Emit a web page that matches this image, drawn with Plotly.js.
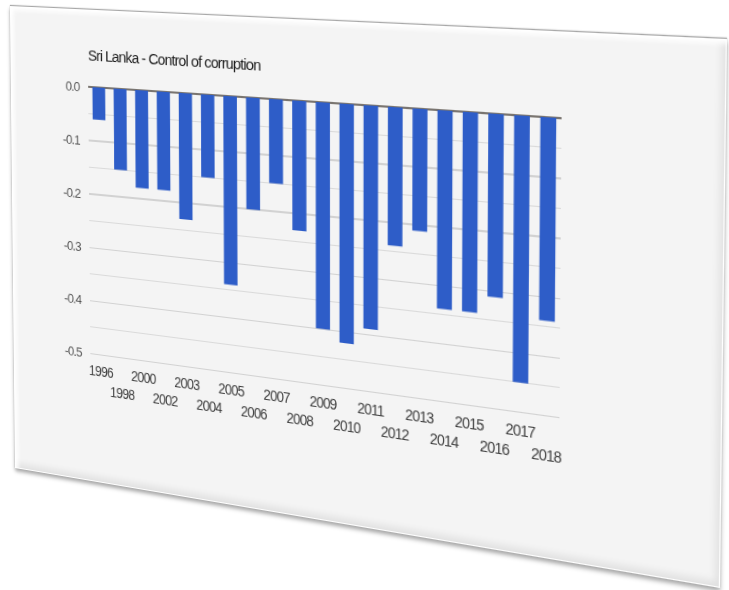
<!DOCTYPE html>
<html><head><meta charset="utf-8">
<script src="https://cdn.plot.ly/plotly-3.0.1.min.js"></script>
<style>
html,body{margin:0;padding:0;background:#ffffff;width:729px;height:590px;overflow:hidden;}
#panel{position:absolute;left:0;top:0;width:720px;height:470px;transform-origin:0 0;background:#f4f4f4;
 box-shadow: inset 0 0 0 1px #ffffff, inset 4px 4px 5px #ffffff, inset -4px -5px 6px #e0e0e0, 0 -1px 1px #a8a8a8, 0 3px 4px rgba(0,0,0,0.35);}
#chart{position:absolute;left:0;top:0;width:720px;height:470px;}
#chart .xtick text, #chart .x2tick text, #chart .ytick text{letter-spacing:-0.8px;}
#chart .gtitle{letter-spacing:-0.9px;}
</style></head><body>
<div id="panel"><div id="chart"></div></div>
<script>
const chartTitle = 'Sri Lanka - Control of corruption';
const years = ['1996','1998','2000','2002','2003','2004','2005','2006','2007','2008',
               '2009','2010','2011','2012','2013','2014','2015','2016','2017','2018'];
const values = [-0.06,-0.15,-0.18,-0.18,-0.23,-0.15,-0.34,-0.20,-0.15,-0.23,
                -0.40,-0.42,-0.39,-0.24,-0.21,-0.34,-0.34,-0.31,-0.45,-0.34];
const yTickVals = [0,-0.1,-0.2,-0.3,-0.4,-0.5];
const yTickText = ['0.0','-0.1','-0.2','-0.3','-0.4','-0.5'];

const W = 720, H = 470;
// perspective warp of the flat panel onto the photographed quadrilateral
const quad = [[10,6],[727,39],[720,588],[15,468]];
function homography(q){
  const [x0,y0]=q[0],[x1,y1]=q[1],[x2,y2]=q[2],[x3,y3]=q[3];
  const dx1=x1-x2, dx2=x3-x2, dx3=x0-x1+x2-x3;
  const dy1=y1-y2, dy2=y3-y2, dy3=y0-y1+y2-y3;
  const den=dx1*dy2-dx2*dy1;
  const g=(dx3*dy2-dx2*dy3)/den, h=(dx1*dy3-dx3*dy1)/den;
  const a=x1-x0+g*x1, b=x3-x0+h*x3, c=x0;
  const d=y1-y0+g*y1, e=y3-y0+h*y3, f=y0;
  return [a/W, d/W, 0, g/W, b/H, e/H, 0, h/H, 0,0,1,0, c, f, 0, 1];
}
document.getElementById('panel').style.transform = 'matrix3d(' + homography(quad).join(',') + ')';

const evenIdx = years.map((y,i)=>i).filter(i=>i%2===0);
const oddIdx = years.map((y,i)=>i).filter(i=>i%2===1);
const font = "'Liberation Sans', Arial, sans-serif";

const bars = {
  type:'bar', x: years, y: values,
  marker:{color:'#2e5dc8'}, hoverinfo:'skip'
};
// carrier for the second (staggered) row of year labels; draws nothing visible
const oddRow = {
  type:'scatter', mode:'markers', x: oddIdx, y: oddIdx.map(i=>values[i]),
  xaxis:'x2', yaxis:'y', marker:{opacity:0, size:1}, hoverinfo:'skip'
};
const layout = {
  width: W, height: H,
  margin:{l:91, r:144, t:76, b:126, pad:0},
  paper_bgcolor:'rgba(0,0,0,0)', plot_bgcolor:'rgba(0,0,0,0)',
  showlegend:false, bargap:0.4,
  font:{family:font, color:'#555'},
  title:{text:chartTitle, x:0, xref:'paper', xanchor:'left', y:1-45/H, yref:'container', yanchor:'middle',
         font:{family:font, size:15.5, color:'#1a1a1a', weight:500}},
  xaxis:{type:'category', range:[-0.5, years.length-0.5], showgrid:false, zeroline:false, showline:false,
         ticks:'', tickmode:'array', tickvals: evenIdx.map(i=>years[i]), ticktext: evenIdx.map(i=>years[i]),
         tickangle:0, ticklabelstandoff:4, tickfont:{size:14, color:'#404040', family:font}, fixedrange:true},
  xaxis2:{type:'linear', overlaying:'x', anchor:'y', side:'bottom', range:[-0.5, years.length-0.5],
         showgrid:false, zeroline:false, showline:false, ticks:'', tickmode:'array',
         tickvals: oddIdx, ticktext: oddIdx.map(i=>years[i]), tickangle:0,
         ticklabelstandoff:23, tickfont:{size:14, color:'#404040', family:font}, fixedrange:true},
  yaxis:{range:[-0.505, 0], tickmode:'array', tickvals:yTickVals, ticktext:yTickText,
         showgrid:true, gridcolor:'#d2d2d2', gridwidth:1.3,
         minor:{tickmode:'linear', tick0:0, dtick:0.05, showgrid:true, gridcolor:'#dadada', gridwidth:1.3},
         zeroline:true, zerolinecolor:'#7a7570', zerolinewidth:1.6, showline:false, ticks:'',
         ticklabelstandoff:9, tickfont:{size:13.5, color:'#555', family:font}, fixedrange:true}
};
Plotly.newPlot('chart', [bars, oddRow], layout, {displayModeBar:false, staticPlot:true});
</script>
</body></html>
